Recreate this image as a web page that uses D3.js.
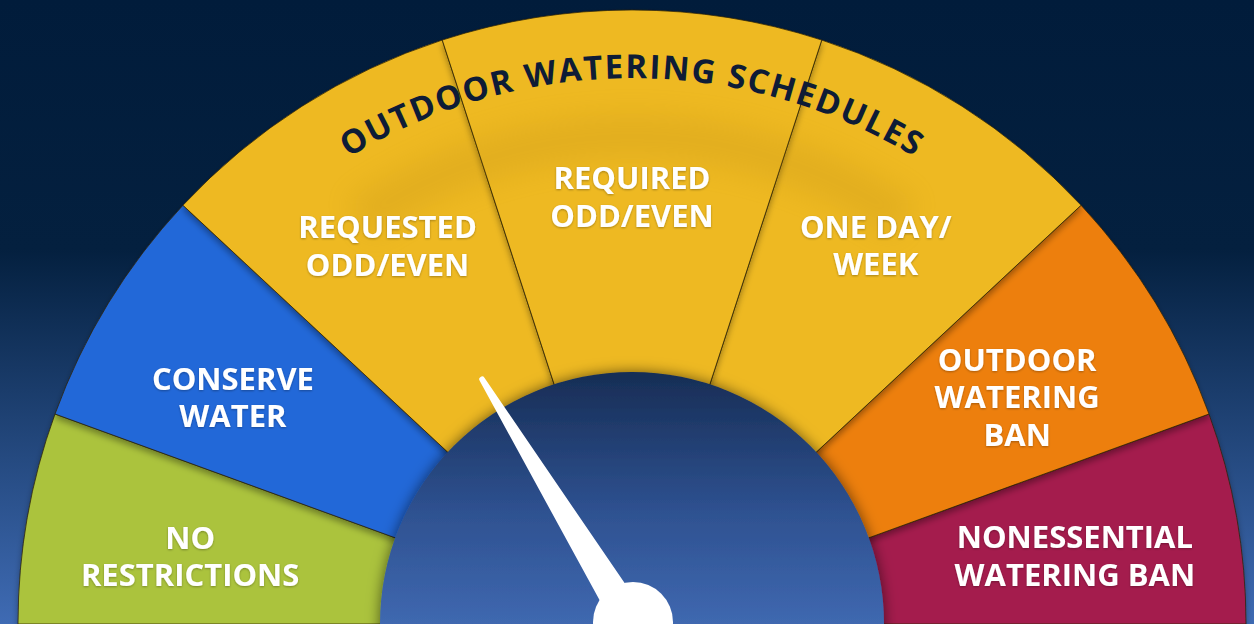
<!DOCTYPE html>
<html>
<head>
<meta charset="utf-8">
<script src="https://cdn.jsdelivr.net/npm/d3@7"></script>
<style>
  body { margin: 0; background: #011c3b; }
  svg { display: block; }
</style>
</head>
<body>
<svg id="chart"></svg>
<script>
const title = "OUTDOOR WATERING SCHEDULES";
const stages = [
  "NO RESTRICTIONS",
  "CONSERVE WATER",
  "REQUESTED ODD/EVEN",
  "REQUIRED ODD/EVEN",
  "ONE DAY/ WEEK",
  "OUTDOOR WATERING BAN",
  "NONESSENTIAL WATERING BAN",
];
const stageLines = [
  ["NO", "RESTRICTIONS"],
  ["CONSERVE", "WATER"],
  ["REQUESTED", "ODD/EVEN"],
  ["REQUIRED", "ODD/EVEN"],
  ["ONE DAY/", "WEEK"],
  ["OUTDOOR", "WATERING", "BAN"],
  ["NONESSENTIAL", "WATERING BAN"],
];
// share of the half circle, in degrees
const spans = [20, 23, 29, 36, 29, 23, 20];
const currentStage = 2;

const colors = ["#abc33c", "#2468d8", "#eeb920", "#eeb920", "#eeb920", "#ed7f10", "#a41f4e"];

const width = 1254;
const height = 624;
const cx = 632;
const cy = 624;
const outerR = 614;
const innerR = 252;
// label placement tweaks (radius, degrees off the sector middle)
const labelR = [447, 459, 450, 427, 450, 447, 448];
const labelNudge = [-1.3, -1.9, -0.4, 0, 0.3, 1, 1.3];

const svg = d3.select("#chart").attr("width", width).attr("height", height);
const defs = svg.append("defs");

const bg = defs.append("linearGradient").attr("id", "bg")
  .attr("x1", 0).attr("y1", 0).attr("x2", 0).attr("y2", 1);
bg.append("stop").attr("offset", "0%").attr("stop-color", "#011c3b");
bg.append("stop").attr("offset", "40%").attr("stop-color", "#04203f");
bg.append("stop").attr("offset", "100%").attr("stop-color", "#3f6bb4");

const hubGrad = defs.append("linearGradient").attr("id", "hubGrad")
  .attr("gradientUnits", "userSpaceOnUse")
  .attr("x1", 0).attr("y1", cy - innerR).attr("x2", 0).attr("y2", cy);
hubGrad.append("stop").attr("offset", "0%").attr("stop-color", "#172d55");
hubGrad.append("stop").attr("offset", "55%").attr("stop-color", "#2e5190");
hubGrad.append("stop").attr("offset", "100%").attr("stop-color", "#3f68b0");

const shade = defs.append("filter").attr("id", "shade")
  .attr("x", "-10%").attr("y", "-10%").attr("width", "120%").attr("height", "120%");
shade.append("feDropShadow").attr("dx", 0).attr("dy", 4)
  .attr("stdDeviation", 3).attr("flood-color", "#000").attr("flood-opacity", 0.35);

const glow = defs.append("filter").attr("id", "glow")
  .attr("x", "-20%").attr("y", "-20%").attr("width", "140%").attr("height", "140%");
glow.append("feDropShadow").attr("dx", 0).attr("dy", 0)
  .attr("stdDeviation", 7).attr("flood-color", "#000").attr("flood-opacity", 0.55);

const blur = defs.append("filter").attr("id", "blur")
  .attr("x", "-30%").attr("y", "-30%").attr("width", "160%").attr("height", "160%");
blur.append("feGaussianBlur").attr("stdDeviation", 14);

const txtShade = defs.append("filter").attr("id", "txtShade");
txtShade.append("feDropShadow").attr("dx", 0).attr("dy", 1)
  .attr("stdDeviation", 1.2).attr("flood-color", "#000").attr("flood-opacity", 0.3);

svg.append("rect").attr("width", width).attr("height", height).attr("fill", "url(#bg)");

// degrees across the half circle -> d3.arc angle
const angle = d3.scaleLinear().domain([0, 180]).range([-Math.PI / 2, Math.PI / 2]);
const stops = [0, ...d3.cumsum(spans)];
const sectors = stages.map((name, i) => ({
  name, i, lines: stageLines[i], color: colors[i],
  startAngle: angle(stops[i]), endAngle: angle(stops[i + 1]),
  mid: (stops[i] + stops[i + 1]) / 2,
}));

function point(deg, r) {
  const a = angle(deg);
  return [cx + r * Math.sin(a), cy - r * Math.cos(a)];
}

const arc = d3.arc().innerRadius(innerR - 20).outerRadius(outerR);
const g = svg.append("g").attr("transform", `translate(${cx},${cy})`);

// outer stages first so inner ones cast their shadow on them
const order = sectors.slice().sort((a, b) => Math.abs(b.i - 3) - Math.abs(a.i - 3));
g.selectAll(".sector")
  .data(order)
  .enter()
  .append("path")
  .attr("class", "sector")
  .attr("d", arc)
  .attr("fill", (d) => d.color)
  .attr("stroke", "rgba(45,35,5,0.75)")
  .attr("stroke-width", 1)
  .attr("filter", "url(#shade)");

// soft shadow band under the title
g.append("path")
  .attr("d", d3.arc()({ innerRadius: 465, outerRadius: 510, startAngle: angle(56), endAngle: angle(124) }))
  .attr("fill", "#a87a08")
  .attr("opacity", 0.16)
  .attr("filter", "url(#blur)");

// title along the arc
const titleR = 546;
defs.append("path").attr("id", "titlePath")
  .attr("d", `M ${cx - titleR},${cy} A ${titleR},${titleR} 0 0 1 ${cx + titleR},${cy}`);

svg.append("text")
  .style("font-family", "'Open Sans', sans-serif")
  .style("font-weight", 700)
  .style("font-size", "33px")
  .style("letter-spacing", "1.8px")
  .attr("fill", "#0e1c36")
  .append("textPath").attr("href", "#titlePath")
  .attr("startOffset", "50%").attr("text-anchor", "middle")
  .text(title);

// stage labels
const lineH = 37.5;
const labels = svg.selectAll(".label")
  .data(sectors)
  .enter()
  .append("text")
  .attr("class", "label")
  .attr("filter", "url(#txtShade)")
  .attr("text-anchor", "middle")
  .style("font-family", "'Open Sans', sans-serif")
  .style("font-weight", 700)
  .style("font-size", "31px")
  .attr("fill", "#ffffff");

labels.each(function (d) {
  const [x, y] = point(d.mid + labelNudge[d.i], labelR[d.i]);
  const n = d.lines.length;
  d3.select(this).selectAll("tspan")
    .data(d.lines)
    .enter()
    .append("tspan")
    .attr("x", x)
    .attr("y", (l, k) => y + (k - (n - 1) / 2) * lineH + 11)
    .text((l) => l);
});

// inner dial
svg.append("circle")
  .attr("cx", cx).attr("cy", cy).attr("r", innerR)
  .attr("fill", "url(#hubGrad)")
  .attr("filter", "url(#glow)");

// needle
const needleDeg = sectors[currentStage].mid + 1;
const a = angle(needleDeg);
const u = [Math.sin(a), -Math.cos(a)];
const p = [Math.cos(a), Math.sin(a)];
const tipR = 287;
const baseW = 17;
const tipW = 2.8;
const at = (r, w) => [cx + u[0] * r + p[0] * w, cy + u[1] * r + p[1] * w];
const b1 = at(0, -baseW), t1 = at(tipR, -tipW), t2 = at(tipR, tipW), b2 = at(0, baseW);
svg.append("path")
  .attr("d", `M${b1}L${t1}A${tipW},${tipW} 0 0 1 ${t2}L${b2}Z`)
  .attr("fill", "#ffffff");

svg.append("circle")
  .attr("cx", cx + 1).attr("cy", cy - 2).attr("r", 40)
  .attr("fill", "#ffffff");
</script>
</body>
</html>
